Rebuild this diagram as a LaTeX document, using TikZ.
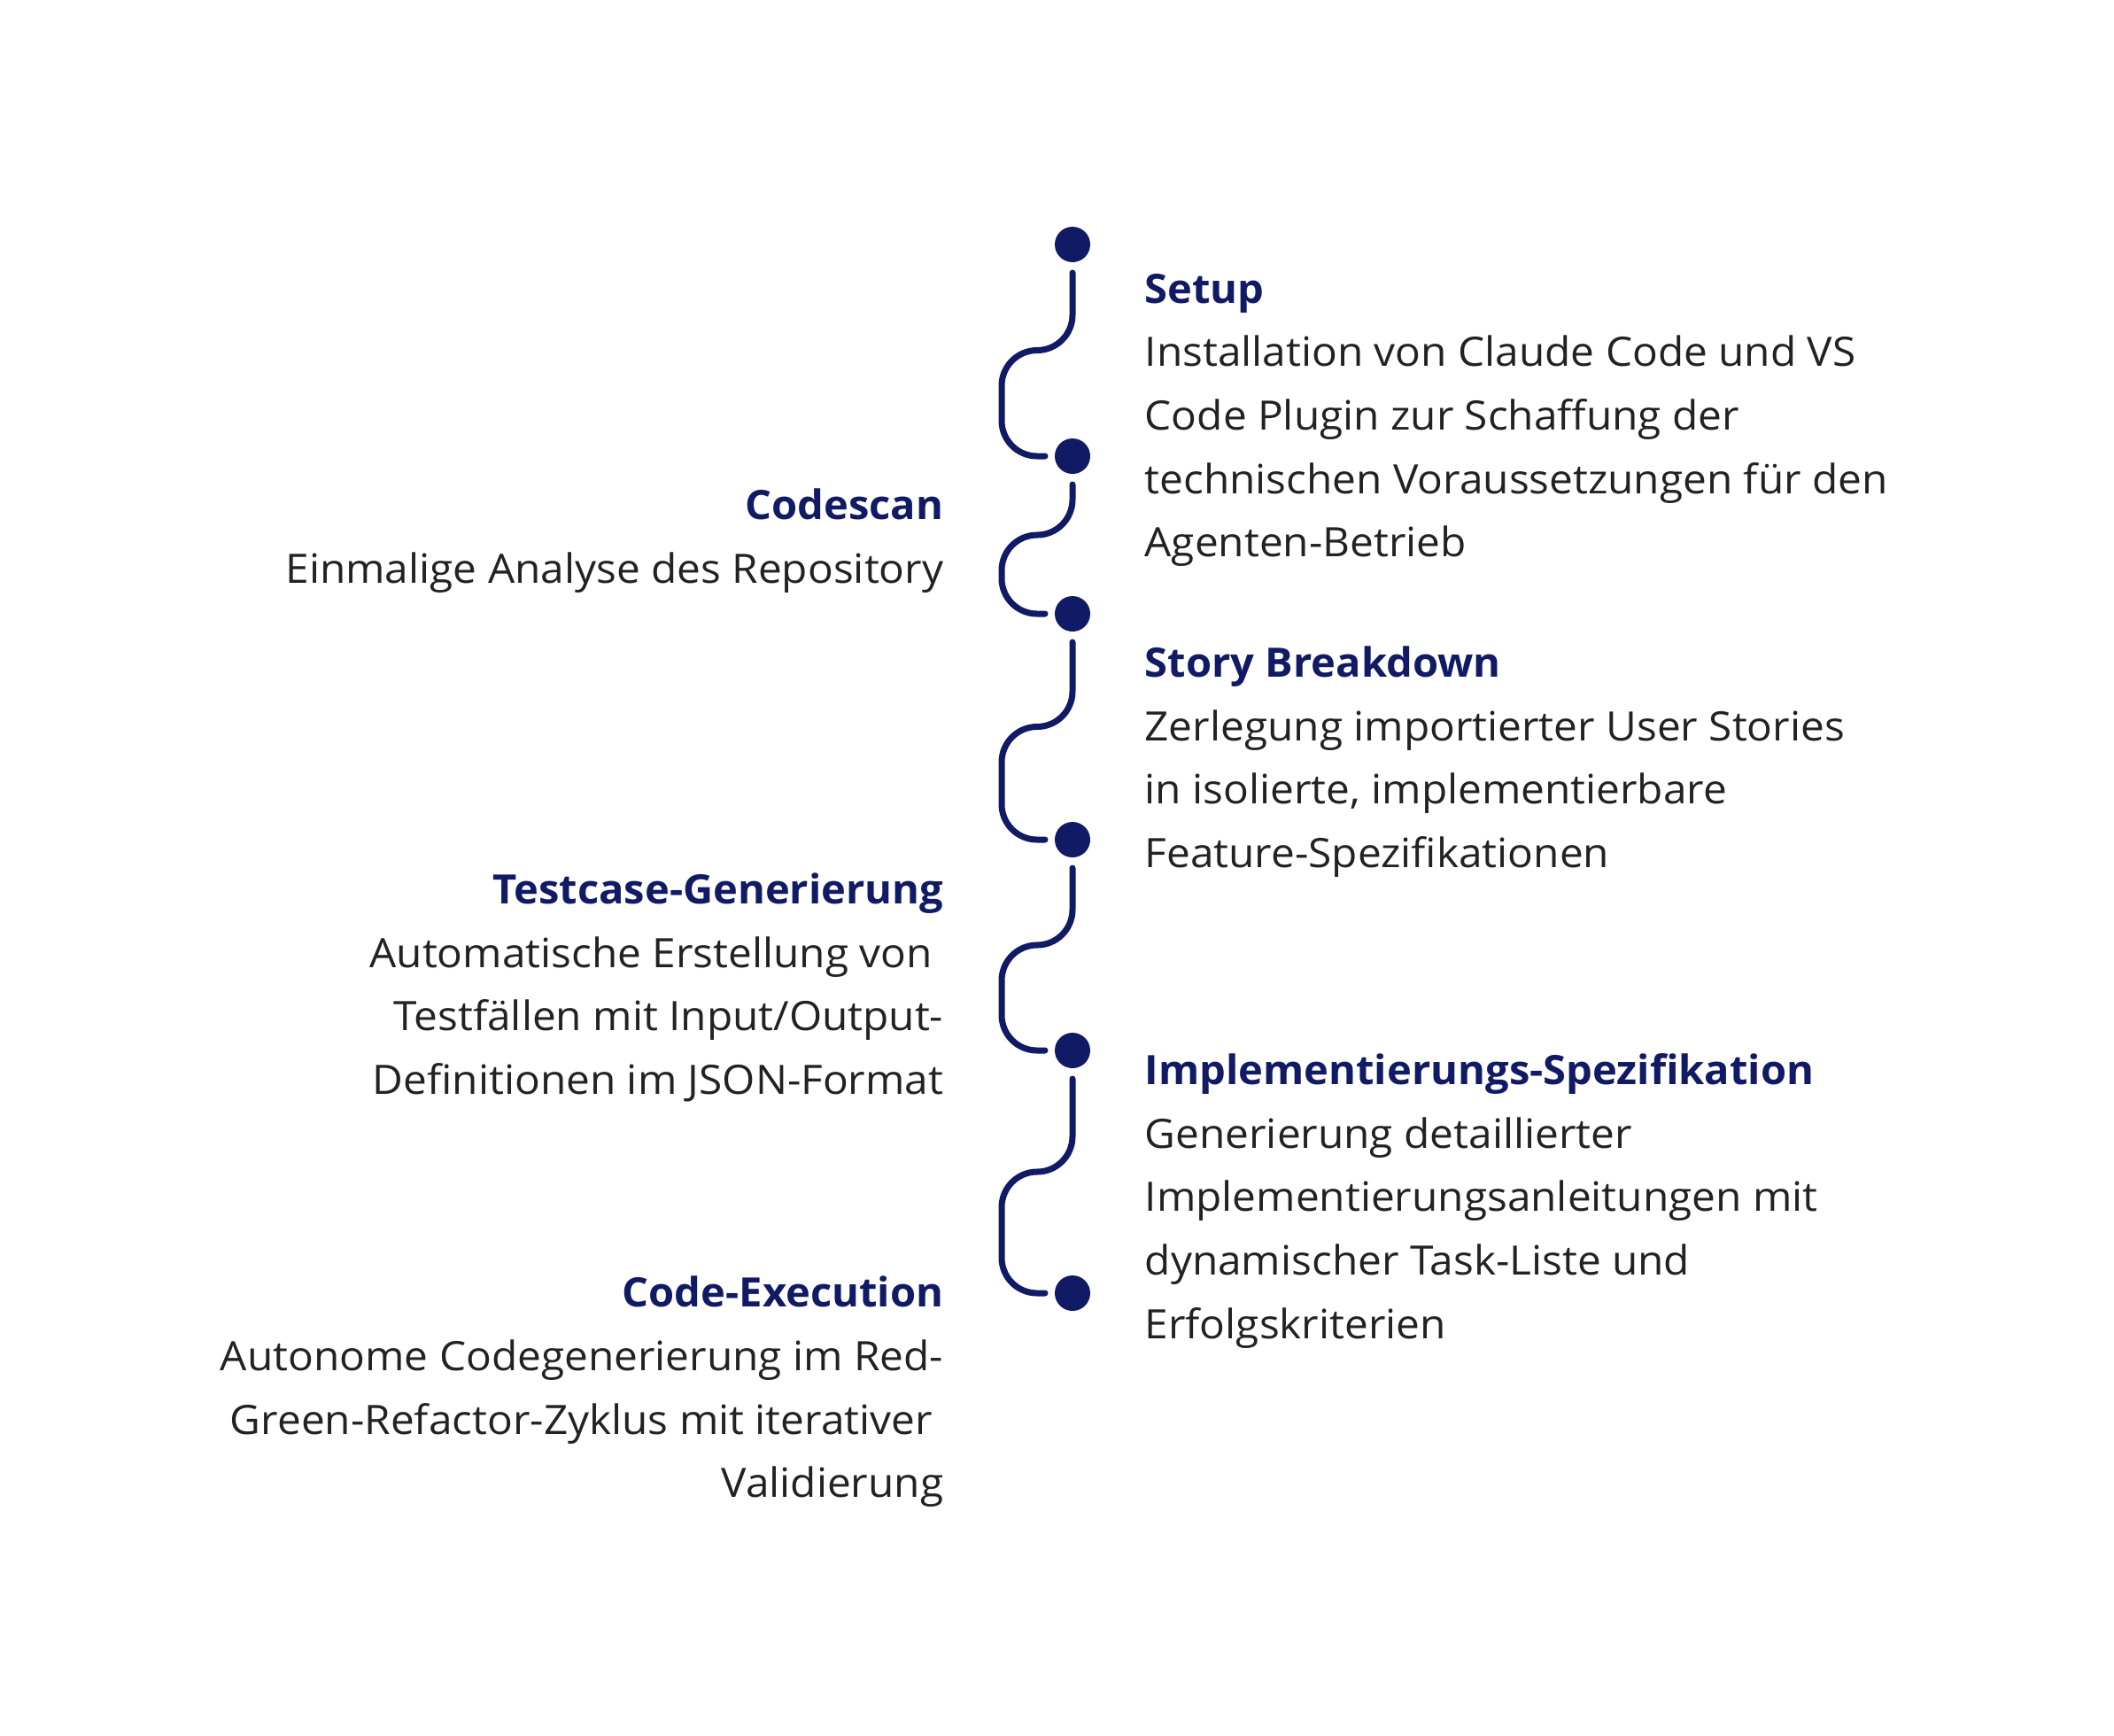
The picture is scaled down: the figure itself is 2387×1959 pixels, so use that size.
\documentclass[tikz,border=0pt]{standalone}
\usepackage{fontspec}
\setmainfont{Open Sans}
\newfontfamily\bodyff{Open Sans}[FakeStretch=1.045]
\newfontfamily\headff{Open Sans}[FakeStretch=1.03]
\usetikzlibrary{calc}
\definecolor{navy}{HTML}{111A64}
\definecolor{txt}{HTML}{222222}
\newcommand{\bodyfnt}{\bodyff\fontsize{13pt}{15pt}\selectfont}
\newcommand{\headfnt}{\headff\fontsize{13pt}{15pt}\selectfont\bfseries}
\begin{document}
\begin{tikzpicture}[x=0.01cm,y=-0.01cm,
  body/.style={font=\bodyfnt, text=txt, inner sep=0pt},
  head/.style={font=\headfnt, text=navy, inner sep=0pt},
  rl/.style={anchor=base west},
  ll/.style={anchor=base east},
  dot/.style={circle, fill=navy, minimum size=0.4cm, inner sep=0pt},
  conn/.style={draw=navy, line width=0.07cm, line cap=round, rounded corners=0.4cm}]
\useasboundingbox (0,0) rectangle (2387,1959);
% dots
\node[dot] (d1) at (1211,276) {};
\node[dot] (d2) at (1211,515) {};
\node[dot] (d3) at (1211,693) {};
\node[dot] (d4) at (1211,948) {};
\node[dot] (d5) at (1211,1186) {};
\node[dot] (d6) at (1211,1460) {};
% connectors
\foreach \a/\b in {d1/d2,d2/d3,d3/d4,d4/d5,d5/d6}{
  \draw[conn] let \p1=(\a), \p2=(\b) in
    ($(\a)+(0,32)$) -- (\x1,{0.5*(\y1+\y2)}) -- ($(\x1,{0.5*(\y1+\y2)})+(-80,0)$)
    -- ($(\b)+(-80,0)$) -- ($(\b)+(-31,0)$);
}
% right: Setup
\node[head,rl] (h1) at (1292,342) {Setup};
\node[body,rl] (b1a) at (1292,413) {Installation von Claude Code und VS};
\node[body,rl] (b1b) at (1292,485) {Code Plugin zur Schaffung der};
\node[body,rl] (b1c) at (1292,557) {technischen Voraussetzungen für den};
\node[body,rl] (b1d) at (1292,628) {Agenten-Betrieb};
% right: Story Breakdown
\node[head,rl] (h3) at (1292,764) {Story Breakdown};
\node[body,rl] (b3a) at (1292,836) {Zerlegung importierter User Stories};
\node[body,rl] (b3b) at (1292,907) {in isolierte, implementierbare};
\node[body,rl] (b3c) at (1292,979) {Feature-Spezifikationen};
% right: Implementierungs-Spezifikation
\node[head,rl] (h5) at (1292,1224) {Implementierungs-Spezifikation};
\node[body,rl] (b5a) at (1292,1296) {Generierung detaillierter};
\node[body,rl] (b5b) at (1292,1367) {Implementierungsanleitungen mit};
\node[body,rl] (b5c) at (1292,1439) {dynamischer Task-Liste und};
\node[body,rl] (b5d) at (1292,1511) {Erfolgskriterien};
% left: Codescan
\node[head,ll] (h2) at (1066,586) {Codescan};
\node[body,ll] (b2a) at (1066,658) {Einmalige Analyse des Repository};
% left: Testcase-Generierung
\node[head,ll] (h4) at (1066,1020) {Testcase-Generierung};
\node[body,ll] (b4a) at (1066,1092) {Automatische Erstellung von\ \mbox{}};
\node[body,ll] (b4b) at (1066,1163) {Testfällen mit Input/Output-};
\node[body,ll] (b4c) at (1066,1235) {Definitionen im JSON-Format};
% left: Code-Execution
\node[head,ll] (h6) at (1066,1475) {Code-Execution};
\node[body,ll] (b6a) at (1066,1547) {Autonome Codegenerierung im Red-};
\node[body,ll] (b6b) at (1066,1619) {Green-Refactor-Zyklus mit iterativer\ \mbox{}};
\node[body,ll] (b6c) at (1066,1690) {Validierung};
\end{tikzpicture}
\end{document}
